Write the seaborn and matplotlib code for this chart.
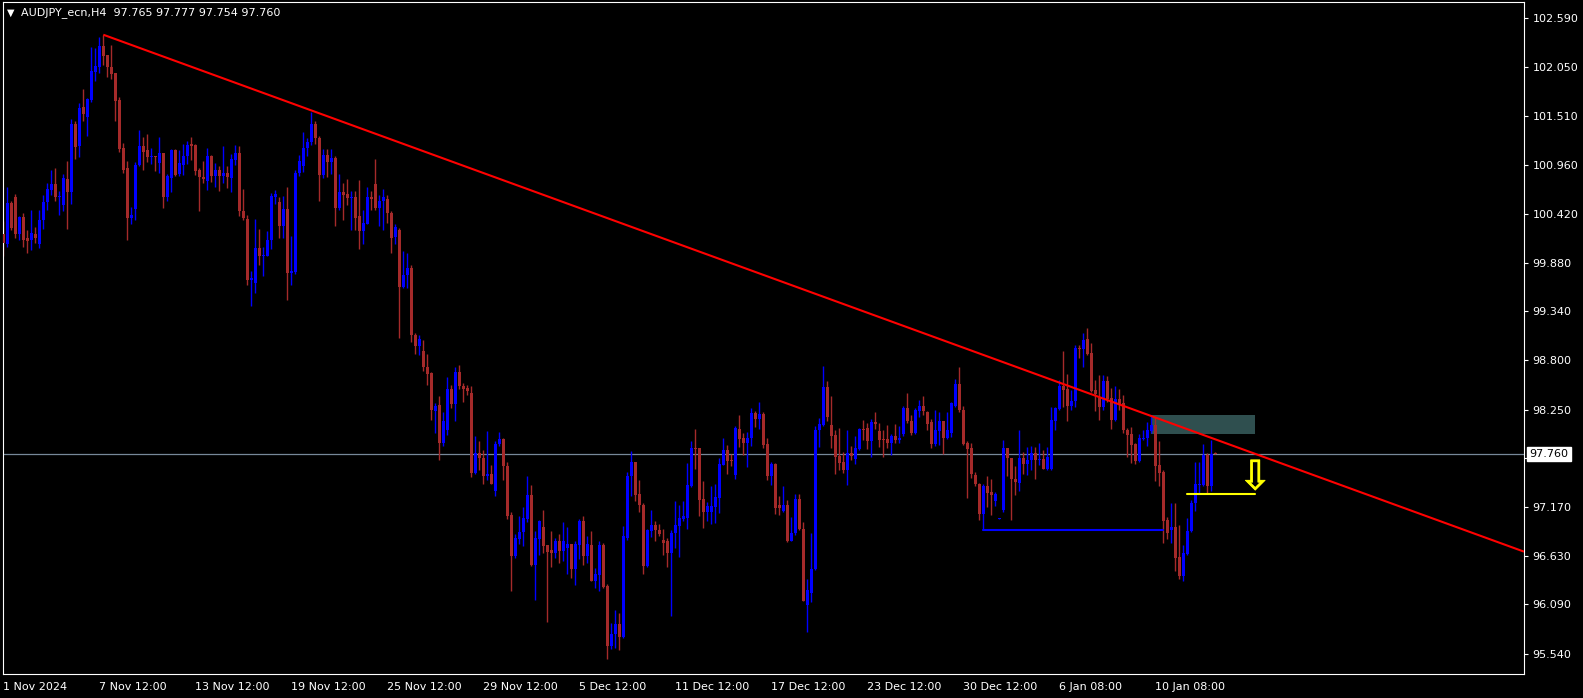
import numpy as np
import matplotlib
matplotlib.use("Agg")
import matplotlib.pyplot as plt
import matplotlib.patheffects as pe
import seaborn as sns

# AUDJPY_ecn H4 candles, one entry per bar starting 1 Nov 2024 12:00
opens = [
    100.20, 100.09, 100.54, 100.61, 100.20, 100.39, 100.15, 100.13, 100.20, 100.09,
    100.35, 100.55, 100.69, 100.75, 100.61, 100.52, 100.81, 100.67, 101.42, 101.17,
    101.61, 101.50, 101.69, 102.00, 102.05, 102.29, 102.18, 102.05, 101.98, 101.69,
    101.15, 100.93, 100.38, 100.48, 100.97, 101.18, 101.13, 101.05, 101.07, 100.99,
    101.10, 100.61, 100.82, 101.13, 100.86, 100.97, 101.06, 101.20, 101.19, 100.91,
    100.83, 100.79, 101.06, 100.84, 100.91, 100.84, 100.88, 100.82, 101.02, 101.10,
    100.45, 100.37, 99.69, 99.66, 100.04, 99.95, 99.96, 100.13, 100.61, 100.55,
    100.29, 100.48, 99.77, 99.78, 100.88, 100.95, 101.15, 101.22, 101.42, 101.26,
    100.85, 101.08, 101.00, 101.04, 100.49, 100.66, 100.64, 100.60, 100.61, 100.40,
    100.23, 100.31, 100.61, 100.75, 100.49, 100.57, 100.59, 100.43, 100.17, 100.24,
    99.61, 99.74, 99.82, 99.08, 98.96, 98.90, 98.72, 98.66, 98.24, 98.30,
    97.88, 98.03, 98.48, 98.31, 98.67, 98.51, 98.49, 98.44, 97.55, 97.77,
    97.71, 97.52, 97.54, 97.35, 97.87, 97.92, 97.63, 97.08, 96.63, 96.82,
    96.89, 97.04, 97.30, 96.53, 96.82, 96.95, 96.75, 96.69, 96.66, 96.79,
    96.68, 96.72, 96.76, 96.48, 96.75, 97.01, 96.63, 96.75, 96.35, 96.42,
    96.75, 96.29, 95.63, 95.76, 95.87, 95.73, 96.83, 97.51, 97.67, 97.31,
    97.19, 96.52, 96.90, 96.97, 96.92, 96.81, 96.79, 96.66, 96.88, 96.96,
    97.04, 97.05, 97.40, 97.83, 97.82, 97.26, 97.12, 97.11, 97.17, 97.27,
    97.64, 97.80, 97.69, 97.53, 98.04, 97.94, 97.88, 97.94, 98.21, 98.15,
    98.20, 97.87, 97.52, 97.65, 97.19, 97.13, 97.19, 96.79, 96.88, 97.26,
    96.93, 96.08, 96.22, 96.48, 98.03, 98.08, 98.50, 98.08, 97.97, 97.74,
    97.67, 97.58, 97.77, 97.70, 97.81, 98.04, 98.05, 97.90, 98.11, 98.01,
    97.92, 97.92, 97.88, 97.96, 97.91, 97.98, 98.27, 98.13, 97.99, 98.24,
    98.29, 98.22, 98.11, 97.87, 98.01, 98.12, 97.94, 97.99, 98.29, 98.53,
    98.25, 97.88, 97.83, 97.53, 97.43, 97.09, 97.40, 97.34, 97.24, 97.04,
    97.14, 97.82, 97.71, 97.48, 97.44, 97.71, 97.65, 97.69, 97.77, 97.69,
    97.70, 97.59, 97.59, 98.13, 98.26, 98.51, 98.48, 98.29, 98.35, 98.94,
    98.92, 99.03, 98.88, 98.47, 98.38, 98.28, 98.57, 98.38, 98.14, 98.37,
    98.32, 98.03, 97.98, 97.87, 97.68, 97.93, 97.94, 98.01, 98.08, 97.64,
    97.56, 97.03, 96.92, 96.95, 96.62, 96.41, 96.65, 96.90, 97.22, 97.41,
    97.41, 97.75, 97.40, 97.765,
]
highs = [
    100.34, 100.72, 100.57, 100.64, 100.40, 100.43, 100.24, 100.47, 100.28, 100.46,
    100.63, 100.77, 100.91, 100.93, 100.68, 100.86, 101.01, 101.48, 101.45, 101.65,
    101.81, 101.71, 102.27, 102.26, 102.38, 102.41, 102.19, 102.30, 101.98, 101.72,
    101.21, 101.01, 100.50, 101.00, 101.35, 101.27, 101.31, 101.15, 101.07, 101.27,
    101.10, 100.87, 101.14, 101.14, 101.13, 101.20, 101.23, 101.28, 101.20, 100.93,
    101.01, 101.15, 101.08, 100.99, 100.95, 101.18, 100.95, 101.09, 101.19, 101.17,
    100.70, 100.41, 99.79, 100.37, 100.25, 100.06, 100.23, 100.65, 100.69, 100.61,
    100.62, 100.72, 100.18, 100.91, 101.08, 101.33, 101.26, 101.55, 101.45, 101.29,
    101.14, 101.14, 101.14, 101.06, 100.87, 100.77, 100.81, 100.68, 100.68, 100.80,
    100.47, 100.72, 100.68, 101.03, 100.63, 100.70, 100.63, 100.45, 100.31, 100.27,
    100.01, 99.99, 99.85, 99.10, 99.08, 99.02, 98.87, 98.67, 98.32, 98.40,
    98.22, 98.61, 98.52, 98.72, 98.75, 98.55, 98.52, 98.51, 97.96, 97.90,
    97.80, 98.01, 97.64, 97.90, 98.00, 97.94, 97.67, 97.11, 96.87, 97.07,
    97.17, 97.52, 97.41, 96.90, 97.03, 97.14, 96.75, 96.90, 96.83, 96.87,
    97.00, 96.95, 96.76, 96.79, 97.04, 97.07, 96.85, 96.90, 96.49, 96.79,
    96.77, 96.32, 95.88, 96.03, 95.99, 96.96, 97.56, 97.79, 97.67, 97.47,
    97.22, 96.93, 97.14, 97.02, 96.98, 96.93, 96.83, 96.92, 97.24, 97.19,
    97.24, 97.66, 97.90, 98.04, 97.83, 97.46, 97.23, 97.40, 97.43, 97.71,
    97.94, 97.86, 97.76, 98.07, 98.19, 97.99, 98.00, 98.27, 98.24, 98.34,
    98.22, 97.94, 97.67, 97.66, 97.29, 97.40, 97.25, 97.06, 97.32, 97.31,
    97.00, 96.37, 96.88, 98.07, 98.16, 98.73, 98.57, 98.40, 98.02, 98.05,
    97.78, 98.02, 97.85, 97.96, 98.05, 98.14, 98.10, 98.15, 98.23, 98.10,
    98.02, 98.08, 97.98, 98.09, 98.07, 98.29, 98.44, 98.19, 98.27, 98.36,
    98.40, 98.24, 98.15, 98.25, 98.22, 98.13, 98.22, 98.34, 98.59, 98.72,
    98.29, 97.90, 97.88, 97.56, 97.44, 97.43, 97.51, 97.48, 97.34, 97.05,
    97.91, 97.83, 97.71, 97.63, 98.02, 97.78, 97.84, 97.85, 97.84, 97.88,
    97.80, 97.84, 98.28, 98.28, 98.58, 98.90, 98.65, 98.47, 98.97, 98.97,
    99.10, 99.16, 98.99, 98.58, 98.64, 98.64, 98.62, 98.49, 98.51, 98.48,
    98.41, 98.05, 98.06, 97.88, 97.98, 98.03, 98.11, 98.19, 98.17, 97.90,
    97.58, 97.06, 97.22, 97.21, 96.97, 96.75, 97.05, 97.25, 97.67, 97.67,
    97.87, 97.77, 97.91, 97.777,
]
lows = [
    99.96, 100.05, 100.24, 100.15, 100.13, 100.05, 99.99, 100.02, 100.10, 100.04,
    100.26, 100.47, 100.63, 100.56, 100.41, 100.45, 100.25, 100.53, 101.03, 101.05,
    101.45, 101.29, 101.66, 101.90, 101.99, 102.07, 101.94, 101.92, 101.45, 101.11,
    100.88, 100.13, 100.31, 100.36, 100.95, 100.91, 101.00, 100.98, 100.90, 100.88,
    100.49, 100.57, 100.67, 100.84, 100.84, 100.85, 100.98, 101.02, 100.85, 100.45,
    100.77, 100.69, 100.78, 100.72, 100.68, 100.76, 100.71, 100.67, 100.96, 100.40,
    100.35, 99.63, 99.40, 99.55, 99.85, 99.73, 99.95, 100.03, 100.53, 100.15,
    100.15, 99.47, 99.63, 99.76, 100.84, 100.89, 101.06, 101.19, 101.20, 100.56,
    100.82, 100.83, 100.86, 100.29, 100.47, 100.35, 100.52, 100.24, 100.24, 100.03,
    100.09, 100.31, 100.47, 100.47, 100.29, 100.24, 100.32, 99.99, 100.09, 99.05,
    99.60, 99.60, 99.00, 98.87, 98.86, 98.68, 98.52, 98.14, 97.99, 97.69,
    97.85, 97.97, 98.27, 98.12, 98.48, 98.33, 98.41, 97.50, 97.54, 97.58,
    97.43, 97.47, 97.43, 97.29, 97.85, 97.47, 97.04, 96.24, 96.61, 96.76,
    96.74, 97.00, 96.52, 96.14, 96.64, 96.66, 95.89, 96.50, 96.60, 96.55,
    96.57, 96.43, 96.38, 96.30, 96.59, 96.53, 96.55, 96.35, 96.27, 96.24,
    96.27, 95.48, 95.60, 95.61, 95.58, 95.72, 96.80, 97.29, 97.24, 97.11,
    96.43, 96.51, 96.84, 96.79, 96.85, 96.64, 96.51, 95.96, 96.72, 96.62,
    97.02, 96.93, 97.39, 97.59, 97.07, 96.94, 97.02, 96.98, 96.99, 97.10,
    97.64, 97.54, 97.63, 97.48, 97.84, 97.75, 97.61, 97.85, 98.06, 98.04,
    97.82, 97.47, 97.41, 97.09, 97.08, 97.12, 96.78, 96.79, 96.86, 96.91,
    96.13, 95.78, 96.12, 96.47, 97.84, 98.07, 98.12, 97.83, 97.54, 97.58,
    97.55, 97.41, 97.69, 97.65, 97.80, 97.91, 97.81, 97.72, 98.04, 97.84,
    97.73, 97.83, 97.75, 97.88, 97.88, 97.96, 98.10, 97.97, 97.98, 98.17,
    98.19, 98.03, 97.82, 97.85, 97.86, 97.76, 97.92, 97.95, 98.28, 98.23,
    97.86, 97.27, 97.49, 97.40, 97.03, 96.92, 97.17, 97.08, 97.18, 97.04,
    97.11, 97.52, 97.03, 97.30, 97.35, 97.54, 97.53, 97.58, 97.48, 97.64,
    97.59, 97.58, 97.58, 98.03, 98.25, 98.28, 98.12, 98.25, 98.28, 98.82,
    98.72, 98.86, 98.45, 98.24, 98.14, 98.25, 98.34, 98.04, 98.13, 98.25,
    97.99, 97.73, 97.66, 97.65, 97.67, 97.91, 97.85, 97.99, 97.46, 97.40,
    96.77, 96.82, 96.77, 96.46, 96.37, 96.35, 96.64, 96.89, 97.13, 97.33,
    97.40, 97.33, 97.35, 97.754,
]
closes = [
    100.10, 100.54, 100.27, 100.20, 100.39, 100.13, 100.12, 100.21, 100.16, 100.35,
    100.55, 100.70, 100.75, 100.61, 100.62, 100.82, 100.66, 101.42, 101.16, 101.60,
    101.53, 101.70, 102.01, 102.06, 102.28, 102.17, 102.05, 101.97, 101.68, 101.14,
    100.91, 100.38, 100.41, 100.97, 101.18, 101.11, 101.05, 101.07, 101.05, 101.10,
    100.61, 100.84, 101.13, 100.85, 100.99, 101.06, 101.19, 101.18, 100.90, 100.83,
    100.81, 101.07, 100.84, 100.91, 100.84, 100.88, 100.83, 101.03, 101.10, 100.45,
    100.38, 99.69, 99.71, 100.04, 99.95, 99.97, 100.13, 100.62, 100.64, 100.29,
    100.48, 99.77, 99.79, 100.88, 101.01, 101.15, 101.22, 101.42, 101.26, 100.85,
    101.08, 101.00, 101.04, 100.49, 100.66, 100.63, 100.60, 100.61, 100.38, 100.23,
    100.32, 100.61, 100.59, 100.49, 100.57, 100.61, 100.43, 100.16, 100.28, 99.61,
    99.74, 99.82, 99.08, 98.96, 99.03, 98.72, 98.65, 98.25, 98.29, 97.88,
    98.13, 98.48, 98.31, 98.67, 98.51, 98.48, 98.46, 97.55, 97.77, 97.71,
    97.52, 97.54, 97.43, 97.87, 97.93, 97.62, 97.07, 96.63, 96.83, 96.89,
    97.05, 97.30, 96.53, 96.83, 97.01, 96.74, 96.67, 96.66, 96.79, 96.68,
    96.79, 96.76, 96.48, 96.76, 97.01, 96.63, 96.76, 96.35, 96.43, 96.75,
    96.28, 95.63, 95.76, 95.87, 95.73, 96.85, 97.51, 97.67, 97.30, 97.19,
    96.52, 96.92, 96.97, 96.92, 96.87, 96.77, 96.66, 96.88, 96.97, 97.05,
    97.07, 97.41, 97.83, 97.81, 97.25, 97.12, 97.18, 97.18, 97.28, 97.65,
    97.80, 97.68, 97.68, 98.05, 97.93, 97.88, 97.94, 98.21, 98.15, 98.20,
    97.86, 97.51, 97.65, 97.16, 97.16, 97.19, 96.79, 96.88, 97.26, 96.93,
    96.13, 96.25, 96.48, 98.03, 98.09, 98.50, 98.17, 97.96, 97.73, 97.66,
    97.58, 97.77, 97.74, 97.83, 98.04, 98.03, 97.90, 98.11, 98.09, 97.91,
    97.91, 97.88, 97.96, 97.91, 97.94, 98.27, 98.12, 97.99, 98.25, 98.29,
    98.24, 98.09, 97.87, 98.02, 98.12, 97.94, 98.03, 98.32, 98.53, 98.25,
    97.87, 97.81, 97.54, 97.43, 97.09, 97.40, 97.33, 97.30, 97.31, 97.05,
    97.82, 97.71, 97.48, 97.45, 97.71, 97.65, 97.69, 97.77, 97.69, 97.70,
    97.59, 97.73, 98.14, 98.27, 98.51, 98.47, 98.29, 98.35, 98.94, 98.92,
    99.02, 98.87, 98.46, 98.42, 98.28, 98.57, 98.37, 98.14, 98.37, 98.31,
    98.03, 97.97, 97.86, 97.68, 97.94, 97.94, 98.03, 98.08, 97.63, 97.55,
    97.02, 96.88, 96.95, 96.61, 96.41, 96.66, 96.90, 97.21, 97.43, 97.43,
    97.75, 97.40, 97.76, 97.760,
]

# time axis labels (bar index -> text)
tick_bars = [0, 24, 48, 72, 96, 120, 144, 168, 192, 216, 240, 264, 288]
tick_texts = ["1 Nov 2024", "7 Nov 12:00", "13 Nov 12:00", "19 Nov 12:00",
              "25 Nov 12:00", "29 Nov 12:00", "5 Dec 12:00", "11 Dec 12:00",
              "17 Dec 12:00", "23 Dec 12:00", "30 Dec 12:00", "6 Jan 08:00",
              "10 Jan 08:00"]
price_ticks = [102.590, 102.050, 101.510, 100.960, 100.420, 99.880, 99.340,
               98.800, 98.250, 97.710, 97.170, 96.630, 96.090, 95.540]

# drawn objects
trend_bars = [25, 287]
trend_prices = [102.41, 98.18]
zone_bars = [287, 313]
zone_prices = [97.98, 98.19]
support_bars = [245, 290]
support_price = 96.92
target_bars = [296, 313]
target_price = 97.32
arrow_bar = 313
arrow_price = 97.49
bid = 97.760
header = "AUDJPY_ecn,H4  97.765 97.777 97.754 97.760"

BULL = "#0000ff"
BEAR = "#a52a2a"
FG = "white"

sns.set_theme(style="dark", rc={"axes.facecolor": "black",
                                "figure.facecolor": "black",
                                "axes.edgecolor": FG,
                                "xtick.color": FG, "ytick.color": FG,
                                "text.color": FG})
plt.rcParams["font.family"] = ["DejaVu Sans"]

W, H = 1583, 698
fig = plt.figure(figsize=(W / 100, H / 100), dpi=100)
ax = fig.add_axes([2.5 / W, 24 / H, (1524 - 2.5) / W, 672 / H])
ax.set_facecolor("black")
ax.grid(False)

x = np.arange(len(opens))
o = np.array(opens)
c = np.array(closes)
colors = np.where(c >= o, BULL, BEAR)

# background objects
ax.fill_between(zone_bars, zone_prices[0], zone_prices[1], color="#2f4f4f",
                linewidth=0, zorder=1)
ax.axhline(bid, color="#778899", linewidth=0.9, zorder=1.5)

# candles
ax.vlines(x, lows, highs, colors=colors, linewidth=1.0, zorder=2)
body_h = np.maximum(np.abs(c - o), 0.011)
ax.bar(x, body_h, bottom=np.minimum(o, c), width=0.78, color=colors,
       linewidth=0, zorder=3)

# trendline drawn as a ray to the right edge
x_right = 380.2
slope = (trend_prices[1] - trend_prices[0]) / (trend_bars[1] - trend_bars[0])
ax.plot([trend_bars[0], x_right],
        [trend_prices[0], trend_prices[0] + slope * (x_right - trend_bars[0])],
        color="#ff0000", linewidth=1.5, zorder=4, solid_capstyle="butt")
ax.plot(support_bars, [support_price] * 2, color=BULL, linewidth=1.5, zorder=4)
ax.plot(target_bars, [target_price] * 2, color="#ffff00", linewidth=1.5, zorder=4)
ax.text(arrow_bar, arrow_price, "\u21e9", color="#ffff00", fontsize=29,
        ha="center", va="center", zorder=5,
        path_effects=[pe.withStroke(linewidth=0.5, foreground="#ffff00")])

ax.set_xlim(-0.2, x_right)
ax.set_ylim(95.318, 102.773)

for s in ax.spines.values():
    s.set_color(FG)
    s.set_linewidth(0.8)

ax.yaxis.tick_right()
ax.set_yticks(price_ticks)
ax.set_yticklabels([f"{p:.3f}" for p in price_ticks])
ax.tick_params(axis="y", length=3, width=0.8, pad=3, labelsize=8,
               labelcolor=FG, left=False, right=True)
ax.set_xticks(tick_bars)
ax.set_xticklabels(tick_texts)
for lab in ax.get_xticklabels():
    lab.set_horizontalalignment("left")
ax.tick_params(axis="x", length=3, width=0.8, pad=3, labelsize=8,
               labelcolor=FG)

# current price tag on the price scale (covers the 97.710 label as in MT4)
ax.annotate(f"{bid:.3f}", xy=(1.0, bid), xycoords=("axes fraction", "data"),
            xytext=(4, 0), textcoords="offset points", ha="left", va="center",
            fontsize=8, color="black", zorder=10, annotation_clip=False,
            bbox=dict(boxstyle="square,pad=0.2", fc="white", ec="white"))

fig.text(7 / W, 1 - 13 / H, "\u25bc", fontsize=7, color=FG, va="center")
fig.text(21 / W, 1 - 13 / H, header, fontsize=8, color=FG, va="center")

fig.savefig("out.png", dpi=100, facecolor="black")
